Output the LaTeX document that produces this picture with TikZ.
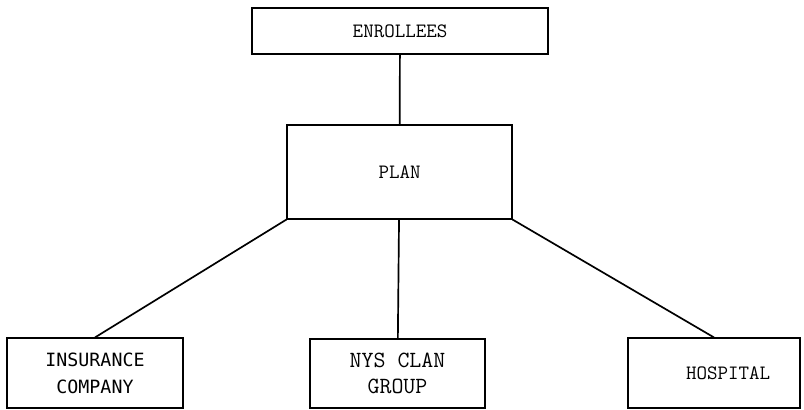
\documentclass[tikz,border=0pt]{standalone}
\usepackage{fontspec}
\newfontfamily\gothic{DejaVu Sans Mono}

\begin{document}
\begin{tikzpicture}[x=0.025cm,y=-0.025cm]
        \useasboundingbox (0,0) rectangle (804,409);
        \begin{scope}[every node/.style={rectangle,draw,line width=0.8pt,inner sep=0pt,align=center,font=\ttfamily\fontsize{14.5}{19}\selectfont}]
        \node[minimum width=7.4cm,minimum height=1.15cm] (enr) at (400,31){ENROLLEES};
        \node[minimum width=5.625cm,minimum height=2.35cm] (plan) at (399.5,172){PLAN};
        \node[minimum width=4.4cm,minimum height=1.75cm,font=\gothic\fontsize{13}{19}\selectfont] (ins) at (95,373){INSURANCE\\COMPANY};
        \node[minimum width=4.375cm,minimum height=1.725cm,font=\ttfamily\fontsize{16.5}{19}\selectfont] (nys) at (397.5,373.5){NYS CLAN\\GROUP};
        \node[minimum width=4.3cm,minimum height=1.75cm] (hosp) at (714,373){\hspace*{0.7cm}HOSPITAL};
        \end{scope}
        \draw[line width=1.2pt] (enr) -- (plan);
        \draw[line width=1.2pt] (plan.south west) -- (ins.north);
        \draw[line width=1.2pt] (plan) -- (nys);
        \draw[line width=1.2pt] (plan.south east) -- (hosp.north);
    \end{tikzpicture}
\end{document}
